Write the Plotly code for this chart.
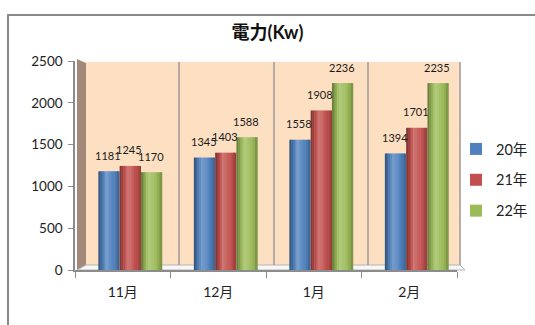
import plotly.graph_objects as go

# ---- data -------------------------------------------------------------
months = ["11月", "12月", "1月", "2月"]
series_names = ["20年", "21年", "22年"]
power_20 = [1181, 1345, 1558, 1394]
power_21 = [1245, 1403, 1908, 1701]
power_22 = [1170, 1588, 2236, 2235]
y_ticks = [0, 500, 1000, 1500, 2000, 2500]

series_values = [power_20, power_21, power_22]
base_colors = [(79, 129, 189), (192, 80, 77), (155, 187, 89)]

# ---- geometry (pixels) --------------------------------------------------
W, H = 535, 325
L, R, T, B = 75, 78, 61, 55
PW, PH = W - L - R, H - T - B


def px_x(x):
    return (x - L) / PW


def px_y(y):
    return (H - B - y) / PH


FONT = "Lato, 'Noto Sans CJK JP', sans-serif"

# bar layout in category units
bw = 0.223            # one bar
shift = 0.079         # groups sit a little right of the category centre
g0 = -1.5 * bw + shift
N = 12                # strips used to shade each cylinder


def shade(rgb, t):
    # brightness profile across a cylinder: dark left edge, highlight, darker right
    pts = [(0.0, -0.38), (0.38, 0.22), (0.7, 0.02), (1.0, -0.22)]
    for (t0, f0), (t1, f1) in zip(pts, pts[1:]):
        if t0 <= t <= t1:
            f = f0 + (f1 - f0) * (t - t0) / (t1 - t0)
            break
    out = []
    for c in rgb:
        if f >= 0:
            out.append(c + (255 - c) * f)
        else:
            out.append(c * (1 + f))
    return "rgb(%d,%d,%d)" % tuple(int(round(min(255, max(0, v)))) for v in out)


fig = go.Figure()

for s, (name, vals, rgb) in enumerate(zip(series_names, series_values, base_colors)):
    for j in range(N):
        t = (j + 0.5) / N
        fig.add_trace(go.Bar(
            x=months,
            y=vals,
            name=name,
            legendgroup=name,
            showlegend=False,
            offset=g0 + s * bw + j * bw / N,
            width=bw / N * 1.25 if j < N - 1 else bw / N,
            marker=dict(color=shade(rgb, t), line=dict(width=0)),
            hoverinfo="skip",
        ))
    # legend entry in the plain series colour
    fig.add_trace(go.Bar(
        x=months,
        y=[None] * len(months),
        name=name,
        legendgroup=name,
        showlegend=True,
        marker=dict(color="rgb(%d,%d,%d)" % rgb, line=dict(width=0)),
    ))

# value labels above each bar
annotations = []
for s, vals in enumerate(series_values):
    for i, v in enumerate(vals):
        annotations.append(dict(
            x=i + g0 + s * bw + bw / 2 - 0.01,
            y=v,
            xref="x", yref="y",
            text=str(v),
            showarrow=False,
            yanchor="middle",
            yshift=16,
            font=dict(family=FONT, size=11, color="#1a1a1a"),
        ))

# 3D-style walls, floor and frame
grey = "#9a9a9a"
shapes = [
    # back wall
    dict(type="rect", xref="paper", yref="paper",
         x0=px_x(86), x1=px_x(460), y0=px_y(265), y1=px_y(62),
         fillcolor="#fddfc2", line=dict(width=0), layer="below"),
    # side wall
    dict(type="path", xref="paper", yref="paper",
         path="M %f,%f L %f,%f L %f,%f L %f,%f Z" % (
             px_x(77), px_y(59), px_x(86), px_y(63),
             px_x(86), px_y(265), px_x(77), px_y(270)),
         fillcolor="#a38979", line=dict(width=0), layer="below"),
    # floor
    dict(type="path", xref="paper", yref="paper",
         path="M %f,%f L %f,%f L %f,%f L %f,%f Z" % (
             px_x(77), px_y(270), px_x(86), px_y(265),
             px_x(460), px_y(265), px_x(465), px_y(270)),
         fillcolor="#f7f7f7", line=dict(color="#b5b5b5", width=1), layer="below"),
]
for xpx in [179, 274, 368, 460]:
    shapes.append(dict(type="line", xref="paper", yref="paper",
                       x0=px_x(xpx), x1=px_x(xpx), y0=px_y(265), y1=px_y(62),
                       line=dict(color=grey, width=1.5), layer="below"))
# chart frame
shapes.append(dict(type="rect", xref="paper", yref="paper",
                   x0=px_x(8), x1=px_x(560), y0=px_y(340), y1=px_y(15),
                   line=dict(color="#8a8a8a", width=2), fillcolor="rgba(0,0,0,0)"))

fig.update_layout(
    width=W, height=H,
    margin=dict(l=L, r=R, t=T, b=B, autoexpand=False),
    paper_bgcolor="white",
    plot_bgcolor="rgba(0,0,0,0)",
    barmode="overlay",
    title=dict(text="<b>電力(Kw)</b>", x=0.5, xanchor="center",
               y=1 - 33 / H, yanchor="middle",
               font=dict(family=FONT, size=18, color="#111")),
    xaxis=dict(type="category", range=[-0.5, len(months) - 0.5],
               showline=True, linecolor="#8c8c8c", linewidth=1.5,
               ticks="outside", tickson="boundaries", ticklen=6,
               tickcolor="#8c8c8c", showgrid=False, ticklabelstandoff=8,
               automargin=False,
               tickfont=dict(family=FONT, size=14, color="#222")),
    yaxis=dict(range=[0, 2500], tickvals=y_ticks,
               showline=True, linecolor="#8c8c8c", linewidth=1.5,
               ticks="outside", ticklen=5, tickcolor="#8c8c8c",
               showgrid=False, zeroline=False, ticklabelstandoff=3,
               automargin=False,
               tickfont=dict(family=FONT, size=13.5, color="#222")),
    legend=dict(x=px_x(456), y=px_y(133), xanchor="left", yanchor="top",
                traceorder="grouped", tracegroupgap=9,
                font=dict(family=FONT, size=14.5, color="#222"),
                bgcolor="rgba(0,0,0,0)"),
    annotations=annotations,
    shapes=shapes,
    showlegend=True,
)

fig.write_html("out.html")
